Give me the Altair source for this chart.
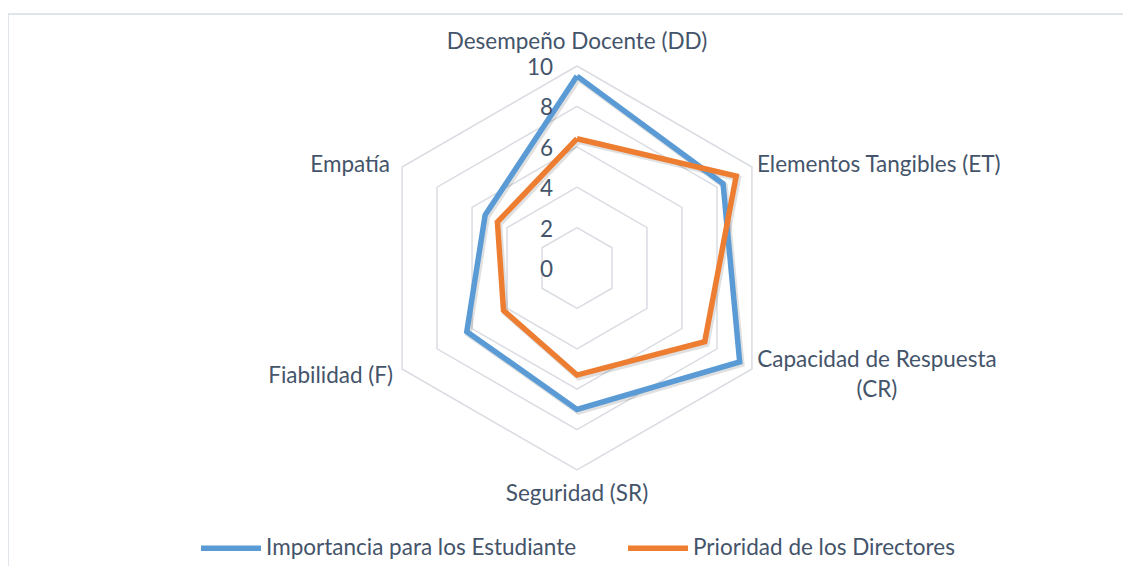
import altair as alt
import pandas as pd

# ---- data ----
categorias = ["Desempeño Docente (DD)", "Elementos Tangibles (ET)",
              "Capacidad de Respuesta (CR)", "Seguridad (SR)",
              "Fiabilidad (F)", "Empatía"]
etiquetas = ["Desempeño Docente (DD)", "Elementos Tangibles (ET)",
             "Capacidad de Respuesta\n(CR)", "Seguridad (SR)",
             "Fiabilidad (F)", "Empatía"]
series = ["Importancia para los Estudiante", "Prioridad de los Directores"]
estudiantes = [9.5, 8.35, 9.3, 7.0, 6.3, 5.25]
directores = [6.4, 9.1, 7.3, 5.3, 4.2, 4.55]
niveles = [0, 2, 4, 6, 8, 10]
colores = ["#5B9BD5", "#ED7D31"]

FONT = "Lato"
FS = 22.5
TXT = "#44546A"
GRID = "#D9DCE2"

W, H = 1115, 552
CX, CY = 569, 254          # pixel centre inside the plot area
PX = 20.2                  # pixels per unit
xdom = [-CX / PX, (W - CX) / PX]
ydom = [-(H - CY) / PX, CY / PX]

xs = alt.Scale(domain=xdom, nice=False, zero=False)
ys = alt.Scale(domain=ydom, nice=False, zero=False)

# ---- tables ----
rows = []
for s, vals in zip(series, [estudiantes, directores]):
    for k in range(len(categorias) + 1):
        i = k % len(categorias)
        rows.append({"serie": s, "idx": i, "orden": k, "valor": vals[i],
                     "categoria": categorias[i]})
df = pd.DataFrame(rows)

grid_rows = []
for lv in niveles[1:]:
    for k in range(len(categorias) + 1):
        grid_rows.append({"nivel": lv, "idx": k % len(categorias), "orden": k, "valor": lv})
dfg = pd.DataFrame(grid_rows)

dft = pd.DataFrame({"nivel": niveles, "idx": [0] * len(niveles), "valor": niveles,
                    "txt": [str(v) for v in niveles]})
dfl = pd.DataFrame({"idx": list(range(len(categorias))), "etiqueta": etiquetas,
                    "valor": [max(niveles)] * len(categorias)})


def polar(ch):
    return ch.transform_calculate(
        ang="datum.idx * PI / 3",
    ).transform_calculate(
        px="datum.valor * sin(datum.ang)",
        py="datum.valor * cos(datum.ang)",
    )


X = alt.X("px:Q", scale=xs, axis=None)
Y = alt.Y("py:Q", scale=ys, axis=None)

grid = polar(alt.Chart(dfg)).mark_line(color=GRID, strokeWidth=1.5).encode(
    x=X, y=Y, detail="nivel:N", order="orden:Q")

shadow = polar(alt.Chart(df)).transform_calculate(
    sx="datum.px + 0.08", sy="datum.py - 0.1"
).mark_line(color="#000000", opacity=0.12, strokeWidth=6.5, strokeJoin="miter").encode(
    x=alt.X("sx:Q", scale=xs, axis=None), y=alt.Y("sy:Q", scale=ys, axis=None),
    detail="serie:N", order="orden:Q")

lines = polar(alt.Chart(df)).mark_line(strokeWidth=5.5, strokeJoin="miter").encode(
    x=X, y=Y, order="orden:Q",
    color=alt.Color("serie:N", scale=alt.Scale(domain=series, range=colores),
                    legend=alt.Legend(title=None, orient="none", direction="horizontal",
                                      legendX=190, legendY=501,
                                      symbolType="stroke", symbolStrokeWidth=5.5,
                                      symbolSize=3600, labelOffset=2,
                                      columnPadding=40,
                                      labelFont=FONT, labelFontSize=FS,
                                      labelColor=TXT, labelLimit=600)))

ticks = polar(alt.Chart(dft)).mark_text(
    align="right", baseline="middle", dx=-24, dy=2,
    font=FONT, fontSize=FS, color=TXT).encode(x=X, y=Y, text="txt:N")

estilos = {
    0: dict(align="center", baseline="middle", dx=0, dy=-24),
    1: dict(align="left", baseline="middle", dx=5, dy=-2),
    2: dict(align="center", baseline="middle", dx=125, dy=-9),
    3: dict(align="center", baseline="middle", dx=0, dy=24),
    4: dict(align="right", baseline="middle", dx=-9, dy=7),
    5: dict(align="right", baseline="middle", dx=-12, dy=-2),
}
label_layers = []
for i, st in estilos.items():
    label_layers.append(
        polar(alt.Chart(dfl)).transform_filter(f"datum.idx == {i}").mark_text(
            font=FONT, fontSize=FS, color=TXT, lineBreak="\n", lineHeight=30, **st
        ).encode(x=X, y=Y, text="etiqueta:N"))

frame_df = pd.DataFrame({"k": [0]})
frame_top = alt.Chart(frame_df).mark_rule(color="#D6DCE4", strokeWidth=1.5).encode(
    x=alt.value(0), x2=alt.value(W), y=alt.value(0))
frame_left = alt.Chart(frame_df).mark_rule(color="#D6DCE4", strokeWidth=1.5).encode(
    x=alt.value(0), y=alt.value(0), y2=alt.value(H))

chart = alt.layer(frame_top, frame_left, grid, shadow, lines, ticks, *label_layers).properties(
    width=W, height=H,
    padding={"left": 0, "top": 6, "right": 0, "bottom": 0},
    autosize=alt.AutoSizeParams(type="none"),
).configure_view(stroke=None)

chart.save("out.html", embed_options={"renderer": "svg", "actions": False})
